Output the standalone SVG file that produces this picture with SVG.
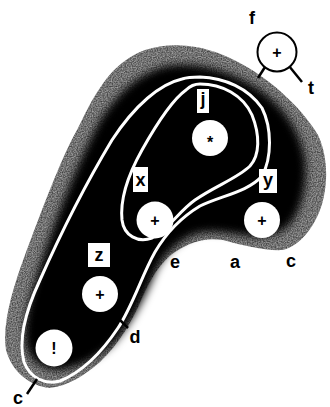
<svg xmlns="http://www.w3.org/2000/svg" width="330" height="407" viewBox="0 0 330 407">
<defs>
<style>
.lbl{font-family:"Liberation Sans",Arial,sans-serif;font-weight:bold;font-size:18px;fill:#000;text-anchor:middle}
.sym{font-family:"Liberation Sans",Arial,sans-serif;font-weight:bold;font-size:16px;fill:#000;text-anchor:middle}
.node{fill:#fff;stroke:none}
.box{fill:#fff;stroke:none}
.loop{fill:none;stroke:#fff;stroke-width:3}
.tick{stroke:#000;stroke-width:2.5;fill:none}
</style>
<filter id="soft" x="-10%" y="-10%" width="120%" height="120%">
<feGaussianBlur stdDeviation="4"/>
</filter>
<filter id="grain" x="0" y="0" width="100%" height="100%" color-interpolation-filters="sRGB">
<feTurbulence type="fractalNoise" baseFrequency="0.8" numOctaves="1" seed="5" result="n"/>
<feColorMatrix in="n" type="matrix" values="0.7 0 0 0 0.1  0.7 0 0 0 0.1  0.7 0 0 0 0.1  0 0 0 0 1" result="g"/>
<feComposite in="g" in2="SourceAlpha" operator="in"/>
</filter>
</defs>
<rect width="330" height="407" fill="#fff"/>
<g id="region">
<path id="blob-outer" fill="#6e6e6e" filter="url(#grain)" d="M100,88 C110,72 125,57 145,50 C170,42 200,44 230,58 C265,74 300,105 318,135 C330,160 328,195 317,217 C308,236 295,247 283,250 C265,251 245,246 223,240 C205,237 190,242 175,252 C160,262 150,280 142,298 C132,322 118,345 100,362 C85,375 68,386 50,388 C30,386 12,372 6,350 C2,325 12,290 25,255 C42,210 60,160 78,128 C86,112 92,99 100,88 Z"/>
<path id="blob-core" fill="#000" filter="url(#soft)" d="M112,104 C126,86 143,72 167,66 C196,61 230,70 260,90 C285,108 300,132 305,158 C308,184 302,208 291,223 C280,235 265,238 248,236 C230,233 212,229 195,234 C178,241 165,253 156,271 C146,295 134,320 115,342 C98,358 80,367 60,370 C43,370 30,361 26,346 C22,325 30,295 42,260 C56,218 74,172 92,136 C99,122 104,113 112,104 Z"/>
</g>
<g id="connectors">
<path id="loop-outer" class="loop" d="M200,77 C225,78 248,88 262,108 C272,128 272,158 262,176 C248,192 220,196 200,206 C180,218 165,235 155,252 C142,275 133,305 118,328 C102,352 82,372 60,381 C45,385 30,378 24,362 C18,340 26,310 40,280 C60,235 85,185 112,140 C135,105 160,84 182,79 C188,77 194,77 200,77 Z"/>
<path id="loop-inner" class="loop" d="M200,84 C222,84 243,95 252,115 C260,135 260,155 250,166 C238,178 215,186 195,200 C178,212 168,230 152,238 C138,243 124,236 122,220 C120,200 128,175 142,150 C156,125 172,100 186,90 C190,86 195,84 200,84 Z"/>
<line class="tick" x1="265" y1="67" x2="258" y2="78"/>
<line class="tick" x1="289" y1="66" x2="302" y2="82"/>
<line class="tick" x1="119" y1="319" x2="128" y2="328"/>
<line class="tick" x1="37" y1="379" x2="27" y2="394" stroke-width="3"/>
</g>
<g id="node-j">
<rect class="box" x="197" y="89" width="12" height="24"/>
<text class="lbl" x="203" y="105">j</text>
<circle class="node" cx="210" cy="138" r="18"/>
<text class="sym" x="210" y="148">*</text>
</g>
<g id="node-x">
<rect class="box" x="133" y="167" width="15" height="25"/>
<text class="lbl" x="140.5" y="186">x</text>
<circle class="node" cx="155" cy="220" r="18.5"/>
<text class="sym" x="155" y="226">+</text>
</g>
<g id="node-y">
<rect class="box" x="259" y="169" width="18" height="24"/>
<text class="lbl" x="268" y="186">y</text>
<circle class="node" cx="262" cy="220" r="18"/>
<text class="sym" x="262" y="226">+</text>
</g>
<g id="node-z">
<rect class="box" x="88" y="243" width="22" height="24"/>
<text class="lbl" x="99" y="261">z</text>
<circle class="node" cx="100" cy="294" r="18"/>
<text class="sym" x="100" y="300">+</text>
</g>
<g id="node-excl">
<circle class="node" cx="54" cy="348" r="18.5"/>
<text class="sym" x="54" y="354">!</text>
</g>
<g id="node-f">
<circle cx="277" cy="52" r="19.5" fill="#fff" stroke="#000" stroke-width="2"/>
<text class="sym" x="277" y="58">+</text>
</g>
<g id="labels">
<text class="lbl" x="252" y="24">f</text>
<text class="lbl" x="311" y="94">t</text>
<text class="lbl" x="175" y="268">e</text>
<text class="lbl" x="235" y="268">a</text>
<text class="lbl" x="291" y="267">c</text>
<text class="lbl" x="135" y="343">d</text>
<text class="lbl" x="18" y="404">c</text>
</g>
</svg>
